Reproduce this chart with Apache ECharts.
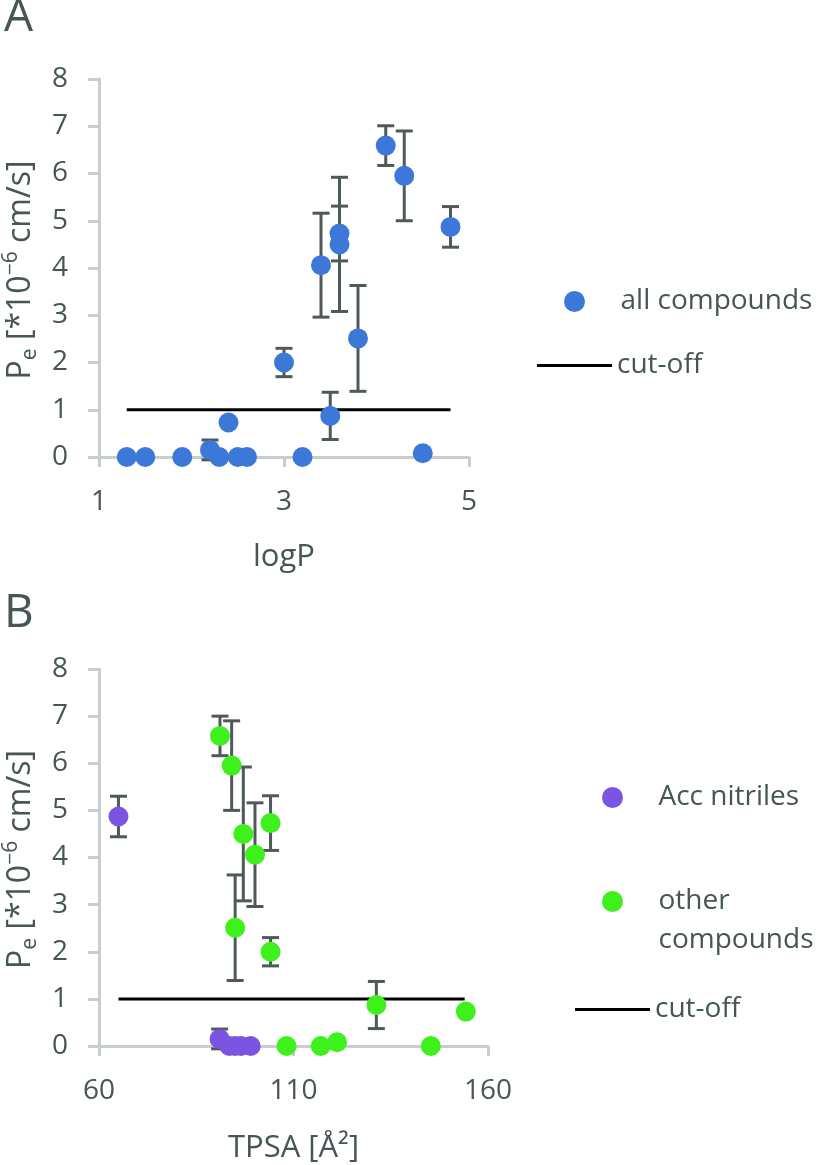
<!DOCTYPE html>
<html>
<head>
<meta charset="utf-8">
<script src="https://cdn.jsdelivr.net/npm/echarts@6/dist/echarts.min.js"></script>
<style>
  html, body { margin: 0; padding: 0; background: #fff; }
  #main { width: 821px; height: 1165px; }
</style>
</head>
<body>
<div id="main"></div>
<script>
// panel A: permeability vs logP
var logP = [1.3, 1.5, 1.9, 2.2, 2.3, 2.4, 2.5, 2.6, 3.0, 3.2, 3.4, 3.5, 3.6, 3.6, 3.8, 4.1, 4.3, 4.5, 4.8];
var peA  = [0, 0, 0, 0.15, 0, 0.73, 0, 0, 2.0, 0, 4.06, 0.87, 4.73, 4.5, 2.51, 6.59, 5.95, 0.08, 4.87];
var errA = [0, 0, 0, 0.21, 0, 0, 0, 0, 0.3, 0, 1.1, 0.5, 0.58, 1.42, 1.12, 0.42, 0.95, 0, 0.43];

// panel B: permeability vs TPSA
var nitrileTPSA = [65, 91, 93.5, 95, 96.5, 99];
var nitrilePe   = [4.87, 0.15, 0, 0, 0, 0];
var nitrileErr  = [0.43, 0.21, 0, 0, 0, 0];

var otherTPSA = [91.1, 94.1, 95.0, 97.1, 100.1, 104.1, 104.1, 108.2, 117, 121.2, 131.3, 145.3, 154.3];
var otherPe   = [6.58, 5.95, 2.51, 4.5, 4.06, 4.73, 2.0, 0, 0, 0.08, 0.87, 0, 0.73];
var otherErr  = [0.42, 0.95, 1.12, 1.42, 1.1, 0.58, 0.3, 0, 0, 0, 0.5, 0, 0];

// cut-off line
var cutoff = 1;
var cutoffRangeA = [1.3, 4.8];
var cutoffRangeB = [65, 154];

var textColor = '#465555';
var axisColor = '#c7cecd';
var errColor = '#4f5959';
var fontName = 'Open Sans';

function zip3(xs, ys, es) {
    var out = [];
    for (let i = 0; i < xs.length; i++) {
        out.push([xs[i], ys[i], es[i]]);
    }
    return out;
}

function errorBars(params, api) {
    var x = api.value(0), y = api.value(1), e = api.value(2);
    if (!e) return null;
    var top = api.coord([x, y + e]);
    var bot = api.coord([x, y - e]);
    var half = 8.5;
    var st = { stroke: errColor, lineWidth: 3 };
    return {
        type: 'group',
        children: [
            { type: 'line', shape: { x1: top[0], y1: top[1], x2: bot[0], y2: bot[1] }, style: st },
            { type: 'line', shape: { x1: top[0] - half, y1: top[1], x2: top[0] + half, y2: top[1] }, style: st },
            { type: 'line', shape: { x1: bot[0] - half, y1: bot[1], x2: bot[0] + half, y2: bot[1] }, style: st }
        ]
    };
}

var yName = '{t|P}{sub|e}{t| [*10}{sup|−6}{t| cm/s]}';
var yNameStyle = {
    color: textColor,
    fontFamily: fontName,
    fontSize: 32,
    padding: [0, 4, 0, 0],
    rich: {
        t: { fontSize: 32, lineHeight: 40, color: textColor, fontFamily: fontName },
        sub: { fontSize: 21, lineHeight: 21, verticalAlign: 'bottom', color: textColor, fontFamily: fontName },
        sup: { fontSize: 21, lineHeight: 21, verticalAlign: 'top', color: textColor, fontFamily: fontName }
    }
};

function yAxisCfg(grid) {
    return {
        type: 'value',
        gridIndex: grid,
        min: 0,
        max: 8,
        interval: 1,
        name: yName,
        nameLocation: 'middle',
        nameGap: 58,
        nameTextStyle: yNameStyle,
        axisLine: { show: true, lineStyle: { color: axisColor, width: 3 } },
        axisTick: { show: true, length: 11, lineStyle: { color: axisColor, width: 3 } },
        axisLabel: { color: textColor, fontFamily: fontName, fontSize: 28, margin: 31 },
        splitLine: { show: false }
    };
}

function xAxisCfg(grid, min, max, interval, name, gap) {
    return {
        type: 'value',
        gridIndex: grid,
        min: min,
        max: max,
        interval: interval,
        name: name,
        nameLocation: 'middle',
        nameGap: gap,
        nameTextStyle: { color: textColor, fontFamily: fontName, fontSize: 31 },
        axisLine: { show: true, onZero: false, lineStyle: { color: axisColor, width: 3 } },
        axisTick: { show: true, length: 10, lineStyle: { color: axisColor, width: 3 } },
        axisLabel: { color: textColor, fontFamily: fontName, fontSize: 28, margin: 31 },
        splitLine: { show: false }
    };
}

function legendCfg(name, left, top, w, h, icon, fmt) {
    var l = {
        data: [name],
        left: left,
        top: top,
        padding: 0,
        itemWidth: w,
        itemHeight: h,
        selectedMode: false,
        textStyle: { color: textColor, fontFamily: fontName, fontSize: 28, lineHeight: 39 }
    };
    if (icon) l.icon = icon;
    if (fmt) l.formatter = fmt;
    return l;
}

var myChart = echarts.init(document.getElementById('main'));

var option = {
    animation: false,
    backgroundColor: '#ffffff',
    title: [
        { text: 'A', left: 4, top: -5, padding: 0, textStyle: { color: textColor, fontFamily: fontName, fontSize: 46, fontWeight: 'normal' } },
        { text: 'B', left: 4, top: 591, padding: 0, textStyle: { color: textColor, fontFamily: fontName, fontSize: 46, fontWeight: 'normal' } }
    ],
    legend: [
        legendCfg('all compounds', 564, 282, 82, 21),
        legendCfg('cut-off', 537, 346, 75, 3, 'rect'),
        legendCfg('Acc nitriles', 602, 778, 82, 21),
        legendCfg('other compounds', 602, 843, 82, 21, null, function (n) { return ' \nother\ncompounds'; }),
        legendCfg('cut-off ', 575, 990, 75, 3, 'rect', function (n) { return 'cut-off'; })
    ],
    grid: [
        { left: 99, right: 352, top: 79, bottom: 708 },
        { left: 99, right: 333, top: 669, bottom: 119 }
    ],
    xAxis: [
        xAxisCfg(0, 1, 5, 2, 'logP', 85),
        xAxisCfg(1, 60, 160, 50, 'TPSA [Å²]', 87)
    ],
    yAxis: [yAxisCfg(0), yAxisCfg(1)],
    series: [
        {
            name: 'errA',
            type: 'custom',
            xAxisIndex: 0,
            yAxisIndex: 0,
            renderItem: errorBars,
            data: zip3(logP, peA, errA),
            z: 2
        },
        {
            name: 'cut-off',
            type: 'line',
            xAxisIndex: 0,
            yAxisIndex: 0,
            symbol: 'none',
            lineStyle: { color: '#000000', width: 3 },
            itemStyle: { color: '#000000' },
            data: [[cutoffRangeA[0], cutoff], [cutoffRangeA[1], cutoff]],
            z: 3
        },
        {
            name: 'all compounds',
            type: 'scatter',
            xAxisIndex: 0,
            yAxisIndex: 0,
            symbolSize: 20,
            itemStyle: { color: '#3b78d8', opacity: 1 },
            data: zip3(logP, peA, errA),
            z: 4
        },
        {
            name: 'errB1',
            type: 'custom',
            xAxisIndex: 1,
            yAxisIndex: 1,
            renderItem: errorBars,
            data: zip3(nitrileTPSA, nitrilePe, nitrileErr),
            z: 2
        },
        {
            name: 'errB2',
            type: 'custom',
            xAxisIndex: 1,
            yAxisIndex: 1,
            renderItem: errorBars,
            data: zip3(otherTPSA, otherPe, otherErr),
            z: 2
        },
        {
            name: 'cut-off ',
            type: 'line',
            xAxisIndex: 1,
            yAxisIndex: 1,
            symbol: 'none',
            lineStyle: { color: '#000000', width: 3 },
            itemStyle: { color: '#000000' },
            data: [[cutoffRangeB[0], cutoff], [cutoffRangeB[1], cutoff]],
            z: 3
        },
        {
            name: 'Acc nitriles',
            type: 'scatter',
            xAxisIndex: 1,
            yAxisIndex: 1,
            symbolSize: 20,
            itemStyle: { color: '#7b54e2', opacity: 1 },
            data: zip3(nitrileTPSA, nitrilePe, nitrileErr),
            z: 4
        },
        {
            name: 'other compounds',
            type: 'scatter',
            xAxisIndex: 1,
            yAxisIndex: 1,
            symbolSize: 20,
            itemStyle: { color: '#3ef01c', opacity: 1 },
            data: zip3(otherTPSA, otherPe, otherErr),
            z: 4
        }
    ]
};

myChart.setOption(option);
</script>
</body>
</html>
